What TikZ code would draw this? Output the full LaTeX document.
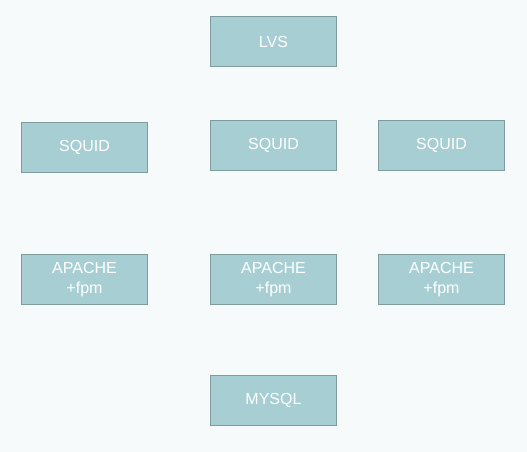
\documentclass[tikz,border=0pt]{standalone}
\usepackage{fontspec}
\setmainfont{Liberation Sans}
\definecolor{boxfill}{HTML}{A7CFD3}
\definecolor{boxline}{HTML}{7E9C9E}
\definecolor{bg}{HTML}{F7FAFA}
\begin{document}
\begin{tikzpicture}[x=1pt,y=-1pt,
  srv/.style={draw=boxline, line width=1pt, fill=boxfill, minimum width=126pt, minimum height=50pt,
    inner sep=0pt, text=white, font=\fontsize{16}{19.5}\selectfont, align=center, anchor=north west}]
\fill[bg] (0,0) rectangle (527,452);
\useasboundingbox (0,0) rectangle (527,452);
\node[srv] (lvs) at (210,16) {LVS};
\node[srv] (sq1) at (21,122) {SQUID};
\node[srv] (sq2) at (210,120) {SQUID};
\node[srv] (sq3) at (378,120) {SQUID};
\node[srv] (ap1) at (21,254) {APACHE\\+fpm};
\node[srv] (ap2) at (210,254) {APACHE\\+fpm};
\node[srv] (ap3) at (378,254) {APACHE\\+fpm};
\node[srv] (db) at (210,375) {MYSQL};
\end{tikzpicture}
\end{document}
